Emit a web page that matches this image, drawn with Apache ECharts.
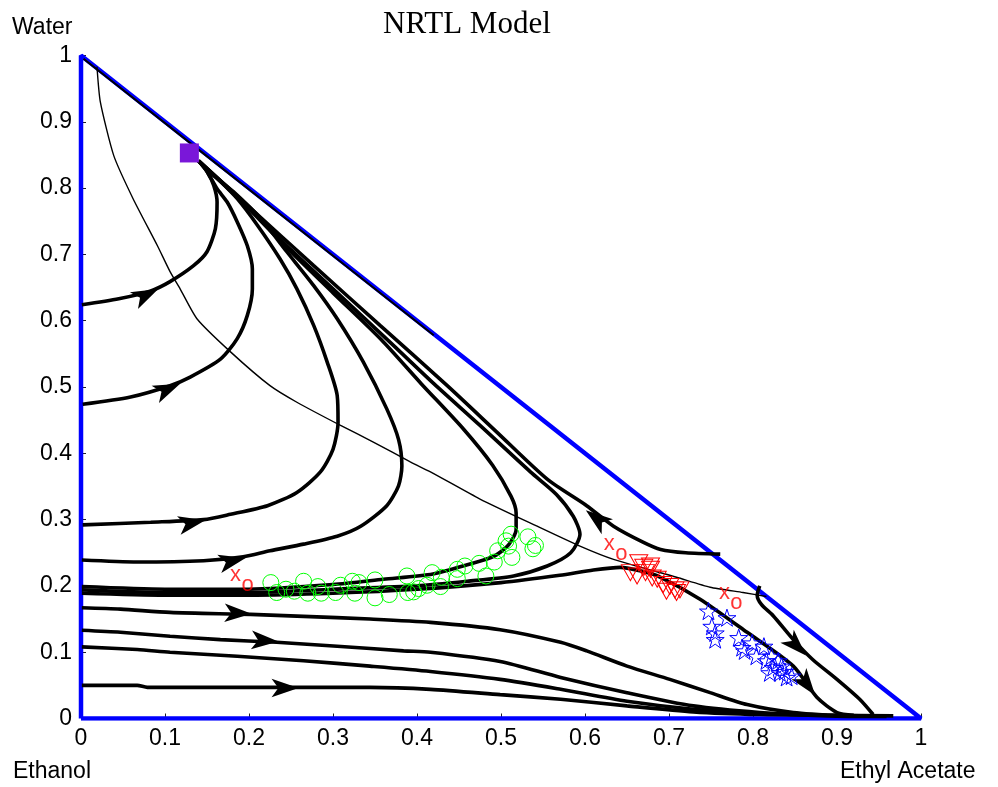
<!DOCTYPE html>
<html>
<head>
<meta charset="utf-8">
<title>NRTL Model</title>
<script src="https://cdn.jsdelivr.net/npm/echarts@6/dist/echarts.min.js"></script>
<style>
  html, body { margin: 0; padding: 0; background: #fff; }
  #chart { width: 998px; height: 787px; }
</style>
</head>
<body>
<div id="chart"></div>
<script>
// x = ethyl acetate fraction, y = water fraction
const axisMin = 0
const axisMax = 1
const tickStep = 0.1

const triangle = [[0, 0], [1, 0], [0, 1], [0, 0]]

// residue curves, in the order they are traced
const curveA = [[0.001,0.624],[0.045,0.633],[0.083,0.645],[0.106,0.659],[0.134,0.683],[0.150,0.704],[0.160,0.739],[0.162,0.779],[0.158,0.804],[0.150,0.825],[0.140,0.841]]
const curveB = [[0.002,0.474],[0.059,0.485],[0.106,0.502],[0.130,0.515],[0.166,0.542],[0.186,0.573],[0.198,0.608],[0.204,0.648],[0.204,0.678],[0.198,0.713],[0.186,0.749],[0.174,0.779],[0.162,0.799],[0.150,0.825],[0.140,0.841]]
const curveC = [[0.002,0.292],[0.083,0.296],[0.146,0.300],[0.178,0.308],[0.222,0.321],[0.257,0.341],[0.285,0.372],[0.300,0.406],[0.306,0.447],[0.305,0.487],[0.293,0.538],[0.277,0.593],[0.257,0.648],[0.237,0.693],[0.210,0.744],[0.186,0.784],[0.166,0.810],[0.150,0.829],[0.140,0.841]]
const curveD = [[0.001,0.239],[0.067,0.236],[0.146,0.238],[0.193,0.244],[0.225,0.253],[0.265,0.263],[0.305,0.275],[0.333,0.290],[0.364,0.321],[0.378,0.351],[0.382,0.381],[0.378,0.421],[0.364,0.467],[0.336,0.538],[0.305,0.603],[0.277,0.653],[0.245,0.704],[0.214,0.754],[0.181,0.795],[0.158,0.819],[0.140,0.841]]
const curveE1 = [[0.001,0.199],[0.1,0.195],[0.2,0.195],[0.3,0.202],[0.36,0.21],[0.419,0.218],[0.46,0.232],[0.492,0.245],[0.509,0.262],[0.518,0.285],[0.518,0.31],[0.512,0.335],[0.49,0.382],[0.455,0.437],[0.405,0.505],[0.357,0.572],[0.3,0.642],[0.245,0.71],[0.195,0.775],[0.14,0.841]]
const curveE2 = [[0.001,0.194],[0.1,0.19],[0.2,0.19],[0.3,0.195],[0.4,0.2],[0.46,0.207],[0.515,0.215],[0.555,0.23],[0.583,0.25],[0.594,0.278],[0.586,0.305],[0.566,0.338],[0.535,0.372],[0.475,0.442],[0.42,0.505],[0.37,0.565],[0.3,0.648],[0.245,0.713],[0.195,0.777],[0.14,0.841]]
const curveF = [[0.001,0.189],[0.1,0.186],[0.2,0.186],[0.3,0.189],[0.4,0.195],[0.5,0.205],[0.57,0.216],[0.61,0.224],[0.642,0.228],[0.668,0.222],[0.69,0.213],[0.737,0.18],[0.793,0.13],[0.848,0.079],[0.876,0.032],[0.9,0.009],[0.92,0.005]]
const curveG = [[0.761,0.248],[0.72,0.250],[0.69,0.255],[0.669,0.266],[0.634,0.290],[0.602,0.321],[0.555,0.361],[0.495,0.432],[0.436,0.502],[0.356,0.593],[0.277,0.683],[0.198,0.774],[0.14,0.841]]
const curveH = [[0.808,0.2],[0.805,0.186],[0.81,0.172],[0.824,0.155],[0.848,0.119],[0.871,0.089],[0.9,0.059],[0.927,0.029],[0.943,0.006]]
const curveI = [[0.001,0.167],[0.047,0.165],[0.106,0.160],[0.202,0.157],[0.265,0.154],[0.344,0.150],[0.416,0.145],[0.499,0.134],[0.571,0.115],[0.602,0.102],[0.650,0.079],[0.701,0.059],[0.749,0.039],[0.793,0.021],[0.848,0.009],[0.907,0.004]]
const curveJ = [[0.001,0.133],[0.047,0.130],[0.106,0.124],[0.166,0.119],[0.233,0.115],[0.305,0.109],[0.384,0.102],[0.416,0.100],[0.499,0.086],[0.571,0.062],[0.650,0.039],[0.729,0.019],[0.808,0.009],[0.888,0.004],[0.959,0.003]]
const curveK = [[0.001,0.108],[0.067,0.104],[0.106,0.100],[0.186,0.094],[0.265,0.087],[0.344,0.079],[0.416,0.071],[0.499,0.059],[0.571,0.044],[0.650,0.026],[0.729,0.014],[0.808,0.008],[0.888,0.005],[0.927,0.004]]
const curveL = [[0.001,0.050],[0.067,0.050],[0.079,0.047],[0.146,0.047],[0.261,0.047],[0.344,0.047],[0.416,0.044],[0.499,0.036],[0.571,0.029],[0.650,0.019],[0.729,0.010],[0.808,0.006],[0.888,0.005],[0.967,0.004]]
// curve running along the water / ethyl acetate edge
const edgeCurve = [[0.003,0.995],[0.14,0.858],[0.3,0.698],[0.42,0.578]]

// thin boundary line
const boundary = [[0.019,0.983],[0.023,0.93],[0.039,0.849],[0.062,0.784],[0.091,0.713],[0.106,0.674],[0.118,0.648],[0.138,0.603],[0.178,0.553],[0.225,0.502],[0.257,0.477],[0.309,0.442],[0.348,0.417],[0.392,0.387],[0.416,0.372],[0.475,0.331],[0.543,0.29],[0.594,0.26],[0.634,0.24],[0.709,0.213],[0.749,0.198],[0.788,0.19],[0.816,0.184]]

// arrow heads: [curve, x, y]
const arrowsAt = [['A',0.092,0.648],['B',0.118,0.505],['C',0.148,0.299],['D',0.196,0.242],['I',0.203,0.158],['J',0.235,0.116],['L',0.259,0.046],['G',0.601,0.314],['H',0.863,0.095],['F',0.874,0.035]]

const greenCircles = [[0.226,0.205],[0.233,0.190],[0.244,0.195],[0.254,0.192],[0.265,0.207],[0.270,0.189],[0.282,0.199],[0.286,0.189],[0.303,0.190],[0.309,0.201],[0.323,0.207],[0.326,0.189],[0.331,0.205],[0.350,0.209],[0.350,0.182],[0.367,0.187],[0.388,0.215],[0.389,0.190],[0.396,0.191],[0.402,0.196],[0.412,0.201],[0.418,0.220],[0.429,0.213],[0.428,0.199],[0.448,0.225],[0.448,0.211],[0.457,0.230],[0.474,0.234],[0.482,0.215],[0.492,0.236],[0.496,0.253],[0.506,0.268],[0.509,0.260],[0.512,0.278],[0.513,0.243],[0.532,0.274],[0.538,0.256],[0.541,0.261]]
const redTriangles = [[0.664,0.235],[0.678,0.230],[0.654,0.220],[0.662,0.215],[0.672,0.220],[0.680,0.212],[0.686,0.210],[0.693,0.202],[0.701,0.199],[0.707,0.194],[0.713,0.194],[0.697,0.192],[0.709,0.190],[0.678,0.225],[0.670,0.228]]
const blueStars = [[0.747,0.162],[0.769,0.152],[0.751,0.139],[0.755,0.129],[0.755,0.119],[0.783,0.122],[0.787,0.107],[0.799,0.114],[0.813,0.109],[0.790,0.102],[0.804,0.094],[0.816,0.087],[0.822,0.094],[0.830,0.087],[0.824,0.077],[0.834,0.079],[0.838,0.071],[0.846,0.064],[0.840,0.062],[0.832,0.069],[0.820,0.069]]
const azeotrope = [[0.129,0.853]]
const xoLabels = [[0.184,0.216],[0.629,0.263],[0.766,0.189]]

const curves = { A: curveA, B: curveB, C: curveC, D: curveD, E1: curveE1, E2: curveE2, F: curveF, G: curveG, H: curveH, I: curveI, J: curveJ, K: curveK, L: curveL }

function starPath() {
  const pts = []
  for (let k = 0; k < 10; k++) {
    const r = k % 2 ? 0.382 : 1
    const a = -Math.PI / 2 + k * Math.PI / 5
    pts.push((r * Math.cos(a)).toFixed(3) + ',' + (r * Math.sin(a)).toFixed(3))
  }
  return 'path://M' + pts.join('L') + 'Z'
}

const font = 'Liberation Sans, Arial, sans-serif'

function axis() {
  return {
    type: 'value', min: axisMin, max: axisMax, interval: tickStep,
    axisLine: { show: false },
    axisTick: { show: true, inside: true, length: 5, lineStyle: { color: '#222', width: 1 } },
    splitLine: { show: false },
    axisLabel: { fontSize: 23, color: '#000', fontFamily: font, margin: 9 }
  }
}

const curveSeries = Object.keys(curves).map((k) => ({
  name: k, type: 'line', data: curves[k], showSymbol: false, smooth: 0.25,
  lineStyle: { color: '#000', width: 3.6 }, z: 3, silent: true
}))

const hollow = (c) => ({ color: 'transparent', borderColor: c, borderWidth: 1, opacity: 1 })

const option = {
  animation: false,
  title: {
    text: 'NRTL Model', left: 378, top: 4,
    textStyle: { fontFamily: 'Liberation Serif, Times New Roman, serif', fontWeight: 'normal', fontSize: 31, color: '#000' }
  },
  grid: { left: 81, right: 77, top: 55.5, bottom: 68.5 },
  xAxis: axis(),
  yAxis: axis(),
  graphic: [
    { type: 'text', left: 12, top: 16, style: { text: 'Water', font: '23px ' + font, fill: '#000' } },
    { type: 'text', left: 13, top: 760, style: { text: 'Ethanol', font: '23px ' + font, fill: '#000' } },
    { type: 'text', left: 840, top: 760, style: { text: 'Ethyl Acetate', font: '23px ' + font, fill: '#000' } }
  ],
  series: [
    { type: 'line', data: triangle, showSymbol: false, lineStyle: { color: '#0000ff', width: 4.5 }, z: 2, silent: true },
    ...curveSeries,
    { type: 'line', data: edgeCurve, showSymbol: false, lineStyle: { color: '#000', width: 2 }, z: 3, silent: true },
    { type: 'line', data: boundary, showSymbol: false, smooth: 0.2, lineStyle: { color: '#000', width: 1.4 }, z: 3, silent: true },
    { id: 'arrows', type: 'scatter', data: [], symbol: 'arrow', symbolSize: [14, 27],
      itemStyle: { color: '#000', opacity: 1 }, z: 4, silent: true },
    { type: 'scatter', data: greenCircles, symbol: 'circle', symbolSize: 16, itemStyle: hollow('#00ff00'), z: 5, silent: true },
    { type: 'scatter', data: redTriangles, symbol: 'triangle', symbolRotate: 180, symbolSize: [18, 16], itemStyle: hollow('#ff0000'), z: 5, silent: true },
    { type: 'scatter', data: blueStars, symbol: starPath(), symbolKeepAspect: true, symbolSize: 18, itemStyle: hollow('#0000ff'), z: 5, silent: true },
    { type: 'scatter', data: azeotrope, symbol: 'rect', symbolSize: 19, itemStyle: { color: '#7a17d9', opacity: 1 }, z: 6, silent: true },
    { type: 'scatter', data: xoLabels, symbolSize: 0, z: 7, silent: true,
      label: { show: true, position: 'inside', formatter: 'x', color: '#ff0000', fontSize: 22, fontFamily: font } },
    { type: 'scatter', data: xoLabels, symbolSize: 0, z: 7, silent: true,
      label: { show: true, position: 'inside', offset: [12, 10], formatter: 'o', color: '#ff0000', fontSize: 22, fontFamily: font } }
  ]
}

const chart = echarts.init(document.getElementById('chart'))
chart.setOption(option)

// rotate each arrow head along the nearest segment of its curve (screen space)
function arrowRotation(curve, pt) {
  const toPx = (p) => chart.convertToPixel({ gridIndex: 0 }, p)
  const p = toPx(pt)
  let best = Infinity
  let dir = [1, 0]
  for (let i = 0; i < curve.length - 1; i++) {
    const a = toPx(curve[i])
    const b = toPx(curve[i + 1])
    const dx = b[0] - a[0]
    const dy = b[1] - a[1]
    const len2 = dx * dx + dy * dy || 1
    const t = Math.max(0, Math.min(1, ((p[0] - a[0]) * dx + (p[1] - a[1]) * dy) / len2))
    const qx = a[0] + t * dx - p[0]
    const qy = a[1] + t * dy - p[1]
    const d = qx * qx + qy * qy
    if (d < best) { best = d; dir = [dx, dy] }
  }
  return Math.atan2(-dir[1], dir[0]) * 180 / Math.PI - 90
}

chart.setOption({
  series: [{
    id: 'arrows',
    data: arrowsAt.map(([k, x, y]) => ({ value: [x, y], symbolRotate: arrowRotation(curves[k], [x, y]) }))
  }]
})

window.addEventListener('resize', () => chart.resize())
</script>
</body>
</html>
